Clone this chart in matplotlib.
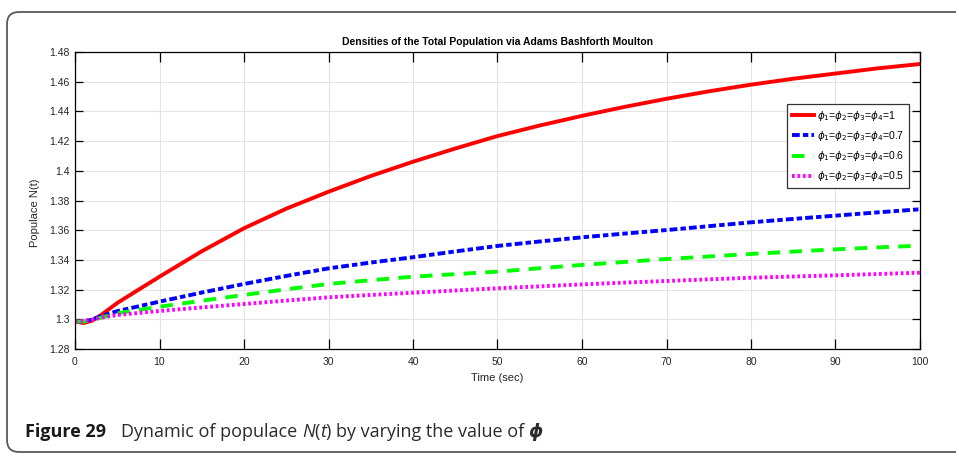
import matplotlib
matplotlib.use("Agg")
import matplotlib.pyplot as plt
from matplotlib.patches import FancyBboxPatch
from matplotlib.transforms import IdentityTransform

# values
time = [0, 1, 2, 3, 5, 10, 15, 20, 25, 30, 35, 40, 45, 50,
        55, 60, 65, 70, 75, 80, 85, 90, 95, 100]
n_phi_1 = [1.2985, 1.2975, 1.2990, 1.3025, 1.3110, 1.3287, 1.3458, 1.3613,
           1.3745, 1.3859, 1.3965, 1.4061, 1.4150, 1.4234, 1.4305, 1.4370,
           1.4430, 1.4485, 1.4535, 1.4580, 1.4620, 1.4655, 1.4690, 1.4719]
n_phi_07 = [1.2985, 1.2985, 1.2998, 1.3020, 1.3055, 1.3119, 1.3180, 1.3238,
            1.3292, 1.3343, 1.3382, 1.3418, 1.3457, 1.3494, 1.3524, 1.3552,
            1.3577, 1.3601, 1.3627, 1.3653, 1.3676, 1.3698, 1.3720, 1.3741]
n_phi_06 = [1.2985, 1.2985, 1.2995, 1.3010, 1.3040, 1.3085, 1.3125, 1.3164,
            1.3202, 1.3238, 1.3263, 1.3287, 1.3304, 1.3321, 1.3344, 1.3366,
            1.3386, 1.3406, 1.3423, 1.3440, 1.3456, 1.3471, 1.3484, 1.3496]
n_phi_05 = [1.2985, 1.2990, 1.2998, 1.3010, 1.3029, 1.3056, 1.3080, 1.3103,
            1.3126, 1.3148, 1.3164, 1.3179, 1.3194, 1.3209, 1.3222, 1.3235,
            1.3247, 1.3258, 1.3269, 1.3280, 1.3288, 1.3296, 1.3305, 1.3314]
labels = [r"$\phi_1$=$\phi_2$=$\phi_3$=$\phi_4$=1",
          r"$\phi_1$=$\phi_2$=$\phi_3$=$\phi_4$=0.7",
          r"$\phi_1$=$\phi_2$=$\phi_3$=$\phi_4$=0.6",
          r"$\phi_1$=$\phi_2$=$\phi_3$=$\phi_4$=0.5"]
x_ticks = list(range(0, 101, 10))
y_ticks = [1.28, 1.30, 1.32, 1.34, 1.36, 1.38, 1.40, 1.42, 1.44, 1.46, 1.48]
y_tick_labels = ["1.28", "1.3", "1.32", "1.34", "1.36", "1.38", "1.4",
                 "1.42", "1.44", "1.46", "1.48"]

plt.rcParams["font.family"] = ["Liberation Sans", "DejaVu Sans"]

W, H = 956, 455
fig = plt.figure(figsize=(W / 100, H / 100), dpi=100)
fig.patch.set_facecolor("white")

# rounded frame around the whole figure (runs off the right edge)
frame = FancyBboxPatch((7, 3), 1000, 440, boxstyle="round,pad=0,rounding_size=12",
                       transform=IdentityTransform(), facecolor="none",
                       edgecolor="#5a5a5a", linewidth=1.3)
fig.patches.append(frame)

ax = fig.add_axes([75 / W, (H - 349) / H, 845 / W, 297 / H])
ax.plot(time, n_phi_1, color="#ff0000", lw=2.8, label=labels[0])
ax.plot(time, n_phi_07, color="#0000ff", lw=2.8, dashes=(2.0, 0.8, 1.4, 0.8),
        label=labels[1])
ax.plot(time, n_phi_06, color="#00ff00", lw=2.8, dashes=(3.2, 2.4), label=labels[2])
ax.plot(time, n_phi_05, color="#ff00ff", lw=2.8, dashes=(0.7, 0.7),
        dash_capstyle="butt", label=labels[3])

ax.set_xlim(0, 100)
ax.set_ylim(1.28, 1.48)
ax.set_xticks(x_ticks)
ax.set_yticks(y_ticks)
ax.set_yticklabels(y_tick_labels)
ax.grid(True, color="#e4e4e4", lw=0.8)
ax.set_axisbelow(True)
ax.tick_params(axis="x", direction="in", length=7.5, width=0.9, top=True,
               labelsize=7.5, labelcolor="#262626", pad=6)
ax.tick_params(axis="y", direction="in", length=5.8, width=0.9, right=True,
               labelsize=7.5, labelcolor="#262626", pad=4)
for sp in ax.spines.values():
    sp.set_linewidth(0.9)

ax.set_title("Densities of the Total Population via Adams Bashforth Moulton",
             fontsize=7.5, fontweight="bold", pad=5)
ax.set_xlabel("Time (sec)", fontsize=8, color="#262626", labelpad=4)
ax.set_ylabel("Populace N(t)", fontsize=8, color="#262626")
ax.yaxis.set_label_coords(-0.041, 0.46)

leg = ax.legend(loc="upper right", bbox_to_anchor=(0.987, 0.825), borderaxespad=0,
                fontsize=7.5, handlelength=2.1, handletextpad=0.3,
                labelspacing=0.6, borderpad=0.45, fancybox=False, framealpha=1)
leg.get_frame().set_edgecolor("#333333")
leg.get_frame().set_linewidth(0.9)

# caption, with mixed weights and slants placed piece by piece
fig.canvas.draw()
renderer = fig.canvas.get_renderer()
cap_y = (H - 437) / H
cap_font = ["Open Sans", "DejaVu Sans"]
fig.text(25 / W, cap_y, "Figure 29", family=cap_font, fontsize=13,
         fontweight="bold", color="#1a1a1a", va="baseline")
pieces = [("Dynamic of populace ", "normal", "normal"),
          ("N", "italic", "normal"),
          ("(", "normal", "normal"),
          ("t", "italic", "normal"),
          (") by varying the value of ", "normal", "normal"),
          ("\u03d5", "italic", "bold")]
x = 121
for s, style, weight in pieces:
    t = fig.text(x / W, cap_y, s, family=cap_font, fontsize=13, style=style,
                 fontweight=weight, color="#2b2b2b", va="baseline")
    x = t.get_window_extent(renderer).x1

fig.savefig("out.png", dpi=100)
